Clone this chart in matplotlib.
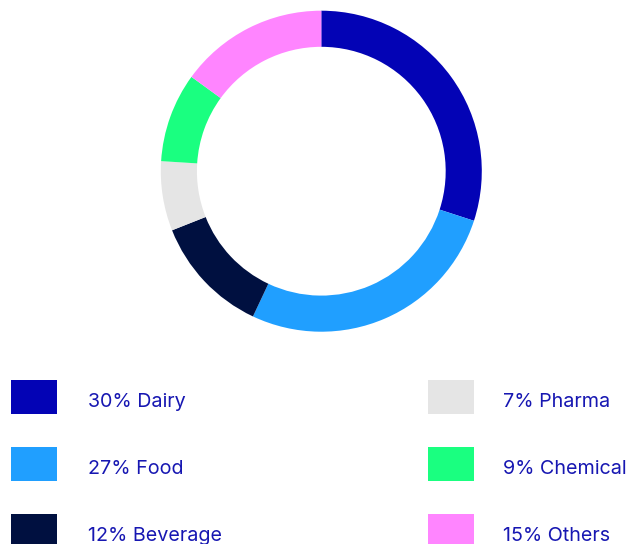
import matplotlib.pyplot as plt
from matplotlib.patches import Rectangle

plt.rcParams['font.family'] = ['Inter', 'DejaVu Sans']

labels = ["Dairy", "Food", "Beverage", "Pharma", "Chemical", "Others"]
shares = [30, 27, 12, 7, 9, 15]
colors = ["#0303B5", "#209FFF", "#001040", "#E5E5E5", "#1AFF80", "#FF85FF"]
text_color = "#1717B2"

W, H = 639, 544
fig = plt.figure(figsize=(W / 100, H / 100), dpi=100)

# donut, placed in pixel terms (center 321,171, radius ~160)
cx, cy, r = 321.3, 171.2, 160.5
ax = fig.add_axes([(cx - r) / W, (H - cy - r) / H, 2 * r / W, 2 * r / H])
ax.pie(shares, colors=colors, startangle=90, counterclock=False, radius=1,
       wedgeprops=dict(width=0.225, linewidth=0))
ax.set_xlim(-1, 1)
ax.set_ylim(-1, 1)
ax.set_aspect("equal")
ax.axis("off")

# legend drawn by hand in pixel coordinates (y from top)
lax = fig.add_axes([0, 0, 1, 1])
lax.set_xlim(0, W)
lax.set_ylim(H, 0)
lax.axis("off")

cols_x = [(11, 88), (427.5, 503)]
row_y0, row_step = 380, 67
for i, (lab, s, c) in enumerate(zip(labels, shares, colors)):
    col, row = divmod(i, 3)
    bx, tx = cols_x[col]
    y = row_y0 + row * row_step
    lax.add_patch(Rectangle((bx, y), 46, 33.5, facecolor=c, edgecolor="none"))
    lax.text(tx, y + 27.3, f"{s}% {lab}", color=text_color, fontsize=14.2,
             va="baseline", ha="left")

fig.savefig("out.png", dpi=100)
